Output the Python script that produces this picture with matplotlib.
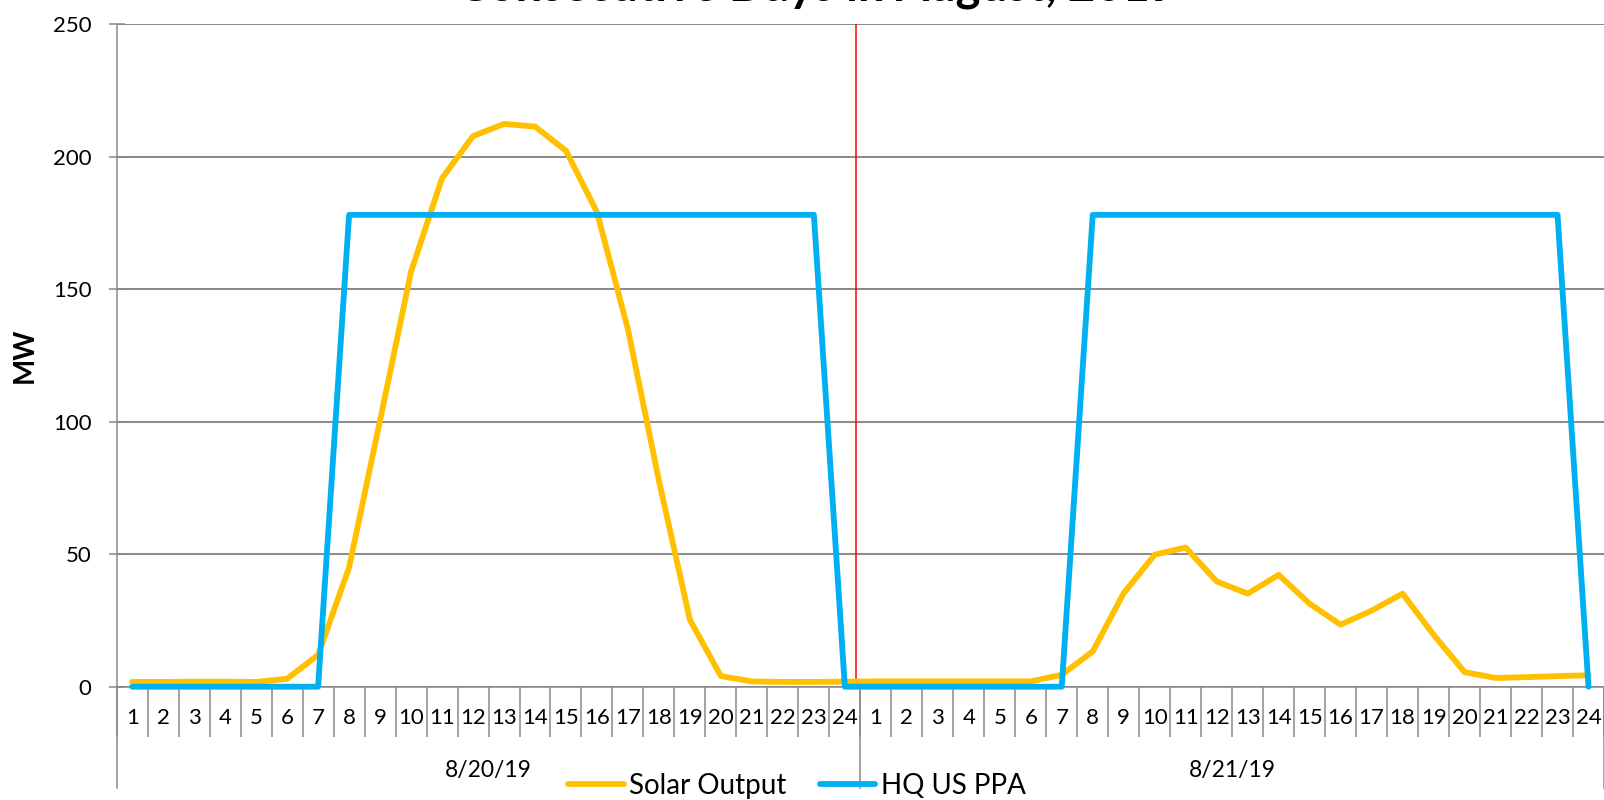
import matplotlib
matplotlib.use('Agg')
import matplotlib.pyplot as plt

# ---------------- data ----------------
hours = ['1', '2', '3', '4', '5', '6', '7', '8', '9', '10', '11', '12',
         '13', '14', '15', '16', '17', '18', '19', '20', '21', '22', '23', '24']
dates = ['8/20/19', '8/21/19']

solar_day1 = [1.8, 1.8, 1.9, 1.9, 1.8, 3.0, 12.0, 45.0, 100.5, 156.6, 191.8, 207.7,
              212.3, 211.3, 202.2, 179.0, 134.8, 77.7, 25.2, 4.0, 2.0, 1.8, 1.8, 1.9]
solar_day2 = [2.0, 2.0, 2.0, 2.0, 2.0, 2.0, 4.5, 13.3, 35.3, 49.8, 52.5, 39.7,
              35.1, 42.2, 31.3, 23.4, 28.7, 35.1, 19.6, 5.5, 3.3, 3.6, 4.0, 4.3]
ppa_day1 = [0, 0, 0, 0, 0, 0, 0, 178, 178, 178, 178, 178,
            178, 178, 178, 178, 178, 178, 178, 178, 178, 178, 178, 0]
ppa_day2 = [0, 0, 0, 0, 0, 0, 0, 178, 178, 178, 178, 178,
            178, 178, 178, 178, 178, 178, 178, 178, 178, 178, 178, 0]

series_names = ['Solar Output', 'HQ US PPA']
title_text = 'Consecutive Days in August, 2019'
y_label = 'MW'
y_ticks = [0, 50, 100, 150, 200, 250]
divider_x = 23.36  # red vertical divider (category position)

# ---------------- style ----------------
ORANGE = '#FFC000'
BLUE = '#00B0F0'
GRAY = '#898989'
FONT = ['Lato', 'DejaVu Sans']
plt.rcParams['font.family'] = FONT

W, H, DPI = 16.04, 8.0, 100
fig = plt.figure(figsize=(W, H), dpi=DPI)
ax_left_px, ax_right_px, ax_top_px, ax_bot_px = 116.7, 1604, 24, 686.7
ax = fig.add_axes([ax_left_px / 1604, 1 - ax_bot_px / 800,
                   (ax_right_px - ax_left_px) / 1604, (ax_bot_px - ax_top_px) / 800])
ax_h_px = ax_bot_px - ax_top_px

solar = solar_day1 + solar_day2
ppa = ppa_day1 + ppa_day2
labels = hours + hours
x = list(range(len(solar)))
n_per_day = len(hours)

px2pt = 72.0 / DPI

ax.axvline(divider_x, color='#FF0000', lw=1.1, zorder=2)
l1, = ax.plot(x, solar, color=ORANGE, lw=4.2, solid_joinstyle='round',
              solid_capstyle='round', clip_on=False, zorder=3, label=series_names[0])
l2, = ax.plot(x, ppa, color=BLUE, lw=4.2, solid_joinstyle='round',
              solid_capstyle='round', clip_on=False, zorder=4, label=series_names[1])

ax.set_xlim(-0.5, len(x) - 0.5)
ax.set_ylim(0, 250)

# y axis
ax.set_yticks(y_ticks)
ax.set_yticklabels([str(v) for v in y_ticks])
ax.yaxis.grid(True, color=GRAY, lw=1.4)
ax.set_axisbelow(True)
ax.tick_params(axis='y', direction='inout', length=16 * px2pt, width=1.1, color=GRAY,
               pad=17 * px2pt, labelsize=16)

# x axis: boundaries as major ticks, centers as minor ticks with labels
bounds = [i - 0.5 for i in range(len(x) + 1)]
ax.set_xticks(bounds)
ax.set_xticklabels([])
ax.set_xticks(x, minor=True)
ax.set_xticklabels(labels, minor=True)
ax.tick_params(axis='x', which='major', direction='out', length=50 * px2pt, width=1.1,
               color=GRAY, labelbottom=False)
ax.tick_params(axis='x', which='minor', length=0, pad=21 * px2pt, labelsize=16)

for s in ['top', 'right']:
    ax.spines[s].set_visible(False)
for s in ['left', 'bottom']:
    ax.spines[s].set_color(GRAY)
    ax.spines[s].set_linewidth(1.1)

# day separators and date labels
trans = ax.get_xaxis_transform()
sep_len = 101 / ax_h_px
for d in range(len(dates) + 1):
    xs = d * n_per_day - 0.5
    ax.plot([xs, xs], [0, -sep_len], transform=trans, color=GRAY, lw=1.1, clip_on=False)
for d, lab in enumerate(dates):
    ax.annotate(lab, xy=(d * n_per_day + (n_per_day - 1) / 2, 0),
                xycoords=('data', 'axes fraction'),
                xytext=(0, -84 * px2pt), textcoords='offset points',
                ha='center', va='center', fontsize=16.5)

# y label
ax.set_ylabel(y_label, fontsize=20, fontweight='bold', va='center')
ax.yaxis.set_label_coords((25 - ax_left_px) / (ax_right_px - ax_left_px), 0.5)

# legend
fig.legend(handles=[l1, l2], labels=series_names, loc='center',
           bbox_to_anchor=(797 / 1604, 1 - 786 / 800), ncol=2, frameon=False,
           fontsize=20, handlelength=2.0, handletextpad=0.2, columnspacing=1.2,
           borderpad=0, borderaxespad=0)

# title (top part cut off, as in the reference)
t = fig.text(817 / 1604, 1 - 0.2 / 800, title_text, ha='center', va='baseline',
             fontsize=30, fontweight='bold')
fig.canvas.draw()
w = t.get_window_extent().width
t.set_fontsize(30 * 720 / w)

fig.savefig('out.png', dpi=DPI)
